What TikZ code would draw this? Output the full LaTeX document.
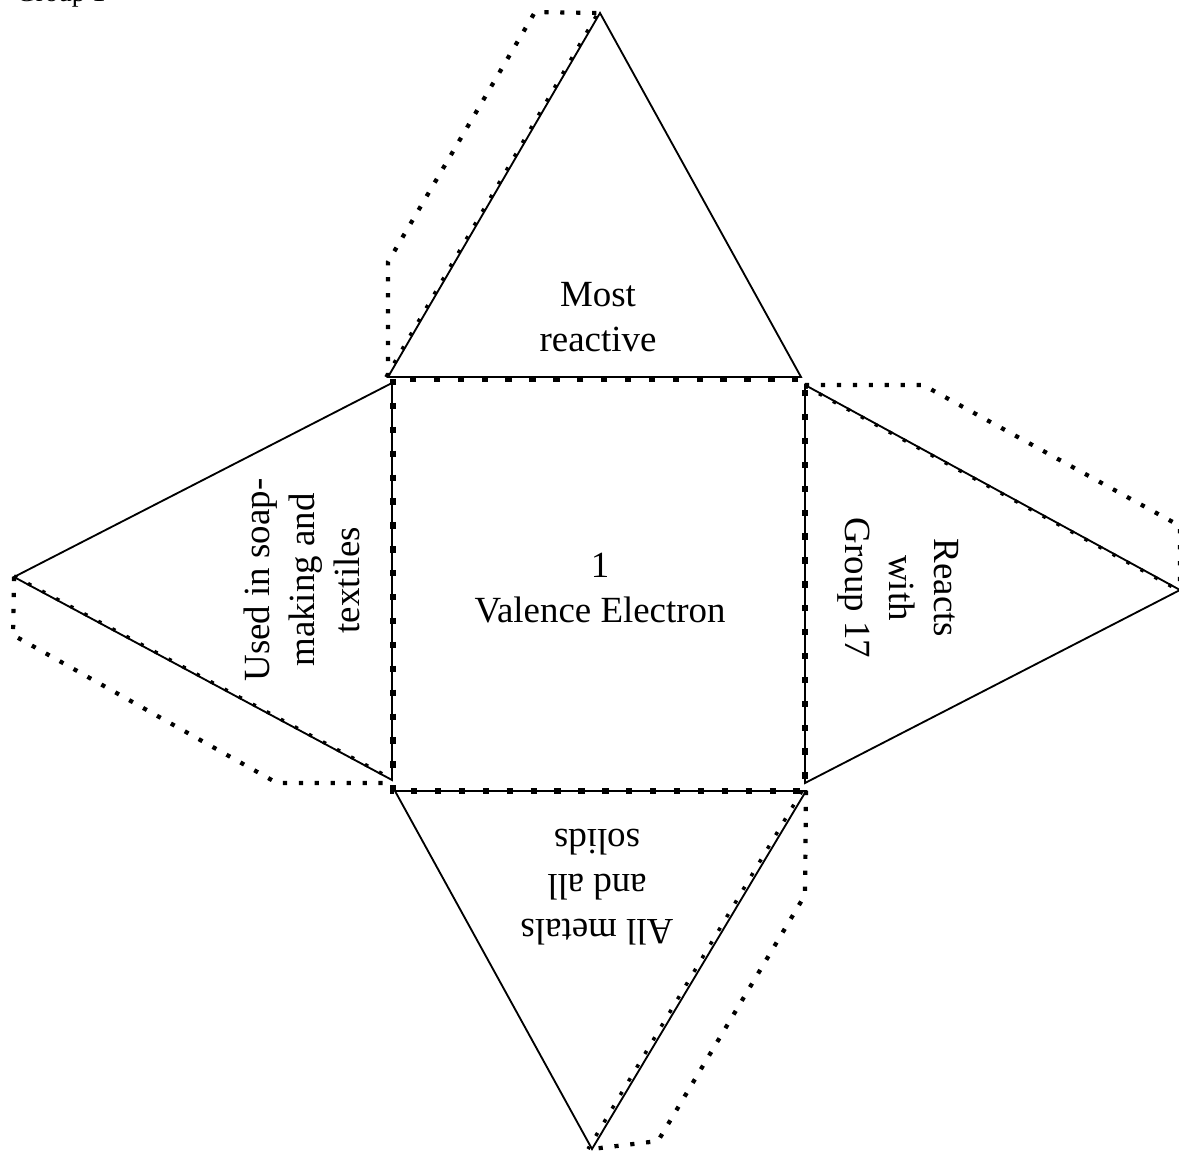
\documentclass[tikz,border=0pt]{standalone}
\usepackage{fontspec}
\setmainfont{Liberation Serif}
\begin{document}
\begin{tikzpicture}[x=0.02cm,y=-0.02cm,
  edge/.style={line width=1.05pt, line join=miter},
  foldline/.style={line width=2pt, dash pattern=on 2pt off 7.07pt},
  tabline/.style={line width=2.4pt, dash pattern=on 2.4pt off 6.67pt},
  creaseline/.style={line width=3pt, dash pattern=on 3.6pt off 10pt},
  lbl/.style={font=\fontsize{21}{25.5}\selectfont, align=center, inner sep=0pt}
]
\useasboundingbox (0,0) rectangle (1179,1151);
\clip (0,0) rectangle (1179,1151);

% corners of the four faces
\coordinate (tA) at (388,377);  \coordinate (tB) at (801,377);  \coordinate (tC) at (600,13);
\coordinate (rA) at (805,385);  \coordinate (rB) at (805,783);  \coordinate (rC) at (1180,590);
\coordinate (lA) at (392,383);  \coordinate (lB) at (392,780);  \coordinate (lC) at (14,577);
\coordinate (bA) at (395,791);  \coordinate (bB) at (806,791);  \coordinate (bC) at (592,1149);
% base square
\coordinate (sq1) at (393,379); \coordinate (sq2) at (805,791);

% triangular faces
\draw[edge] (tA) -- (tB) -- (tC) -- cycle;
\draw[edge] (rA) -- (rC) -- (rB) -- cycle;
\draw[edge] (lA) -- (lC) -- (lB) -- cycle;
\draw[edge] (bA) -- (bB) -- (bC) -- cycle;

% fold lines of the square base
\draw[creaseline] (sq1) rectangle (sq2);

% fold lines along the glued edges
\draw[foldline] ([xshift=-0.04cm]tA) -- ([xshift=-0.04cm]tC);
\draw[foldline] ([yshift=-0.02cm]rA) -- ([yshift=-0.02cm]rC);
\draw[foldline] ([yshift=0.02cm]lC) -- ([yshift=0.02cm]lB);
\draw[foldline] ([xshift=-0.08cm]bB) -- ([xshift=-0.08cm]bC);

% glue tabs
\draw[tabline] (tA) -- (388,262) -- (535,12) -- (tC);
\draw[tabline] (rA) -- (923,385) -- (1180,526) -- (rC);
\draw[tabline] (lC) -- (13,635) -- (277,783) -- (391,783);
\draw[tabline] (bB) -- (805,895) -- (658,1141) -- (bC);

% labels
\node[anchor=base west, font=\fontsize{15.4}{18}\selectfont, inner sep=0pt] (grp) at (16,2) {Group 1};
\node[lbl] (mostreactive) at (598,317) {Most\\reactive};
\node[lbl] (valence) at (600,588) {1\\Valence Electron};
\node[lbl, rotate=90] (uses) at (302,580) {Used in soap-\\making and\\textiles};
\node[lbl, rotate=-90] (reacts) at (898,588) {Reacts\\with\\Group 17};
\node[lbl, rotate=180] (metals) at (597,887) {All metals\\and all\\solids};
\end{tikzpicture}
\end{document}
